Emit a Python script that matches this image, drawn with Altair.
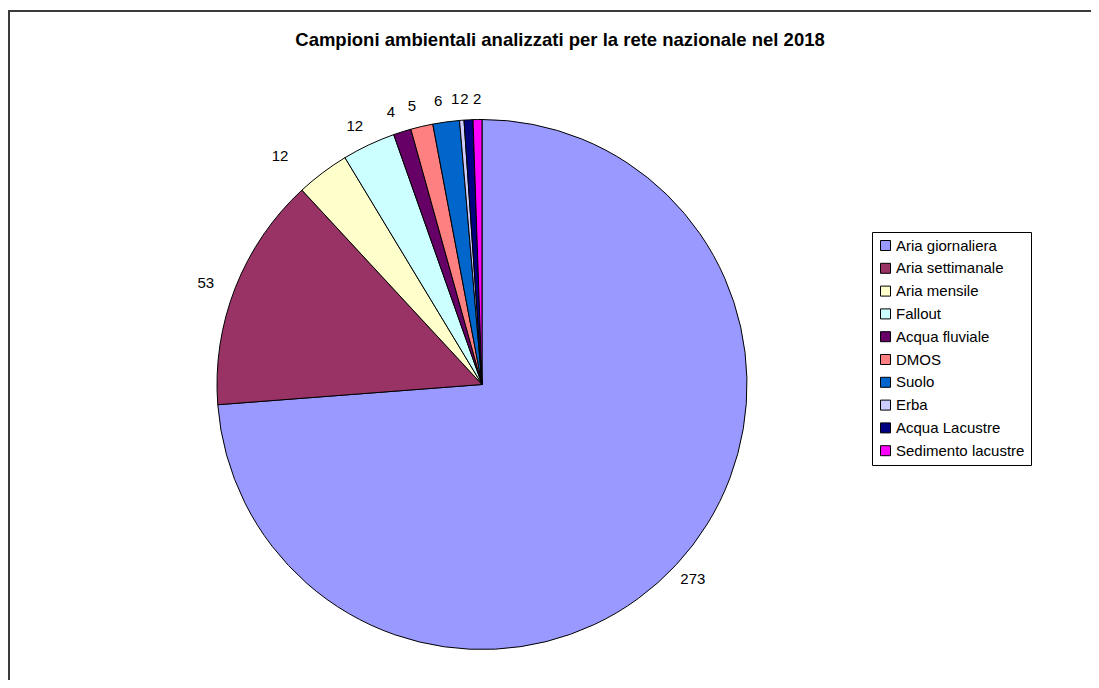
import altair as alt
import pandas as pd

categories = ["Aria giornaliera", "Aria settimanale", "Aria mensile", "Fallout",
              "Acqua fluviale", "DMOS", "Suolo", "Erba", "Acqua Lacustre",
              "Sedimento lacustre"]
values = [273, 53, 12, 12, 4, 5, 6, 1, 2, 2]
colors = ["#9999FF", "#993366", "#FFFFCC", "#CCFFFF", "#660066",
          "#FF8080", "#0066CC", "#CCCCFF", "#000080", "#FF00FF"]
title_text = "Campioni ambientali analizzati per la rete nazionale nel 2018"

df = pd.DataFrame({"cat": categories, "val": values, "ord": list(range(len(values)))})

W, H = 1083, 670
CX, CY, R = 474, 374.5, 265
FONT = "Liberation Sans"

stacked = alt.Chart(df).transform_stack(
    stack="val", as_=["v0", "v1"], groupby=[],
    sort=[alt.SortField("ord", order="ascending")],
).transform_calculate(mid="(datum.v0 + datum.v1) / 2")

theta_scale = alt.Scale(domain=[0, sum(values)], nice=False, zero=True)

pie = stacked.mark_arc(outerRadius=R, stroke="black", strokeWidth=1).encode(
    theta=alt.Theta("v0:Q", scale=theta_scale), theta2="v1:Q",
    x=alt.value(CX), y=alt.value(CY),
    color=alt.Color("cat:N",
                    scale=alt.Scale(domain=categories, range=colors),
                    legend=alt.Legend(
                        title=None, orient="none", legendX=864, legendY=222,
                        symbolType="square", symbolSize=100,
                        symbolStrokeColor="black", symbolStrokeWidth=1,
                        symbolOpacity=1,
                        labelFont=FONT, labelFontSize=15, labelColor="black",
                        labelOffset=3, rowPadding=6.8,
                        padding=6, strokeColor="black", fillColor="white",
                        labelLimit=300)),
)


def label_layer(cond, dx, dy=0):
    return stacked.transform_filter(cond).mark_text(
        radius=286, font=FONT, fontSize=15, color="black",
        align="center", baseline="middle", dx=dx, dy=dy).encode(
        theta=alt.Theta("mid:Q", scale=theta_scale),
        x=alt.value(CX), y=alt.value(CY),
        text=alt.Text("val:Q"))


labels_main = label_layer("datum.ord == 0", 1)
labels_53 = label_layer("datum.ord == 1", -10, 3)
labels_mens = label_layer("datum.ord == 2", -30)
labels_top = label_layer("datum.ord >= 3 && datum.ord <= 7", -5)
labels_lac = label_layer("datum.ord == 8", -3)
labels_sed = label_layer("datum.ord == 9", 0)

title_df = pd.DataFrame({"t": [title_text]})
title = alt.Chart(title_df).mark_text(font=FONT, fontSize=18.5, fontWeight="bold",
                                      color="black", align="center",
                                      baseline="alphabetic").encode(
    text="t:N", x=alt.value(552), y=alt.value(36))

frame_left = alt.Chart(title_df).mark_rule(color="#3a3a3a", strokeWidth=2).encode(
    x=alt.value(1), y=alt.value(0), y2=alt.value(H))
frame_top = alt.Chart(title_df).mark_rule(color="#3a3a3a", strokeWidth=2).encode(
    x=alt.value(0), x2=alt.value(W), y=alt.value(1))

chart = alt.layer(pie, labels_main, labels_53, labels_mens, labels_top,
                  labels_lac, labels_sed,
                  title, frame_left, frame_top).properties(
    width=W, height=H,
    padding={"left": 0, "top": 2, "right": 0, "bottom": 0},
    autosize=alt.AutoSizeParams(type="none"),
).configure_view(stroke=None).configure(background="white")

chart.save("out.html", embed_options={"renderer": "svg", "actions": False})
